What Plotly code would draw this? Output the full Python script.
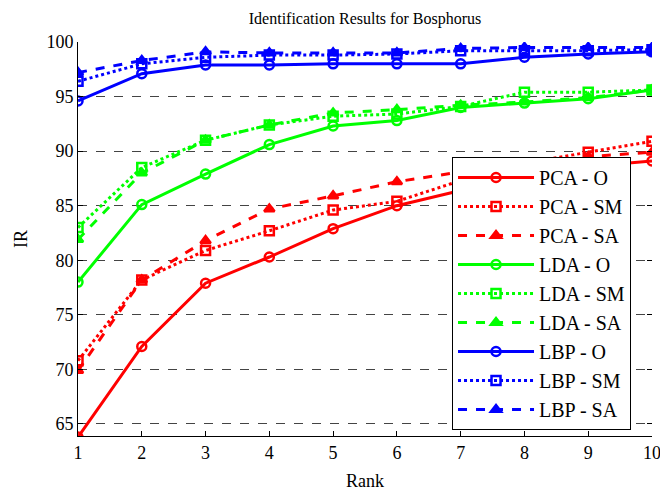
import plotly.graph_objects as go

# Identification rate (%) at each rank for the three feature extractors
rank = [1, 2, 3, 4, 5, 6, 7, 8, 9, 10]

pca_o = [63.8, 72.1, 77.9, 80.3, 82.9, 85.0, 86.4, 87.8, 88.6, 89.1]
pca_sm = [70.8, 78.2, 80.9, 82.7, 84.6, 85.4, 87.3, 88.9, 89.9, 90.9]
pca_sa = [69.9, 78.2, 81.8, 84.7, 85.9, 87.2, 88.1, 88.8, 89.5, 89.9]

lda_o = [78.0, 85.1, 87.9, 90.6, 92.3, 92.8, 94.0, 94.4, 94.8, 95.6]
lda_sm = [83.0, 88.5, 91.0, 92.4, 93.2, 93.4, 94.1, 95.4, 95.4, 95.6]
lda_sa = [81.9, 88.0, 91.0, 92.4, 93.5, 93.8, 94.2, 94.5, 94.9, 95.6]

lbp_o = [94.6, 97.1, 97.9, 97.9, 98.0, 98.0, 98.0, 98.6, 98.9, 99.1]
lbp_sm = [96.4, 98.0, 98.6, 98.8, 98.8, 98.9, 99.2, 99.2, 99.2, 99.3]
lbp_sa = [97.2, 98.3, 99.1, 99.0, 99.0, 99.0, 99.4, 99.5, 99.5, 99.5]

y_ticks = [65, 70, 75, 80, 85, 90, 95, 100]

FONT = "Liberation Serif"

series = [
    ("PCA - O", pca_o, "#ff0000", "solid", "circle-open"),
    ("PCA - SM", pca_sm, "#ff0000", "dot", "square-open"),
    ("PCA - SA", pca_sa, "#ff0000", "dash", "triangle-up"),
    ("LDA - O", lda_o, "#00ff00", "solid", "circle-open"),
    ("LDA - SM", lda_sm, "#00ff00", "dot", "square-open"),
    ("LDA - SA", lda_sa, "#00ff00", "dash", "triangle-up"),
    ("LBP - O", lbp_o, "#0000ff", "solid", "circle-open"),
    ("LBP - SM", lbp_sm, "#0000ff", "dot", "square-open"),
    ("LBP - SA", lbp_sa, "#0000ff", "dash", "triangle-up"),
]

fig = go.Figure()
for name, vals, color, dash, symbol in series:
    fig.add_trace(go.Scatter(
        x=rank, y=vals, name=name, mode="lines+markers",
        line=dict(color=color, width=3, dash=dash),
        marker=dict(symbol=symbol, size=9, color=color,
                    line=dict(color=color, width=2.5)),
    ))

# tick marks only on the right edge
fig.add_trace(go.Scatter(x=[None], y=[None], yaxis="y2", showlegend=False))

tick_font = dict(family=FONT, size=18, color="black")

fig.update_layout(
    width=660, height=491,
    margin=dict(l=78, r=8, t=42, b=55, autoexpand=False),
    paper_bgcolor="white", plot_bgcolor="white",
    font=dict(family=FONT, size=18, color="black"),
    title=dict(text="Identification Results for Bosphorus", x=0.553, xanchor="center",
               y=0.963, yanchor="middle", font=dict(family=FONT, size=16)),
    xaxis=dict(range=[1, 10], tickvals=rank, showgrid=False, zeroline=False,
               showline=True, linecolor="black", linewidth=1, automargin=False,
               ticks="inside", ticklen=5, tickcolor="black",
               tickfont=tick_font, ticklabeloverflow="allow",
               title=dict(text="Rank", standoff=19, font=tick_font)),
    yaxis=dict(range=[63.9, 100], tickvals=y_ticks, zeroline=False,
               showgrid=True, gridcolor="#444444", griddash="dash", gridwidth=1,
               showline=True, linecolor="black", linewidth=1, automargin=False,
               ticks="inside", ticklen=5, tickcolor="black",
               tickfont=tick_font, ticklabeloverflow="allow",
               title=dict(text="IR", standoff=14, font=tick_font)),
    yaxis2=dict(range=[63.9, 100], tickvals=y_ticks, overlaying="y", side="right",
                showgrid=False, zeroline=False, showline=False, automargin=False,
                ticks="inside", ticklen=5, tickcolor="black", showticklabels=False),
    legend=dict(x=0.6516, y=0.708, xanchor="left", yanchor="top",
                bgcolor="white", bordercolor="black", borderwidth=1,
                itemwidth=76, font=dict(family=FONT, size=20), tracegroupgap=0),
)

fig.write_html("out.html")
